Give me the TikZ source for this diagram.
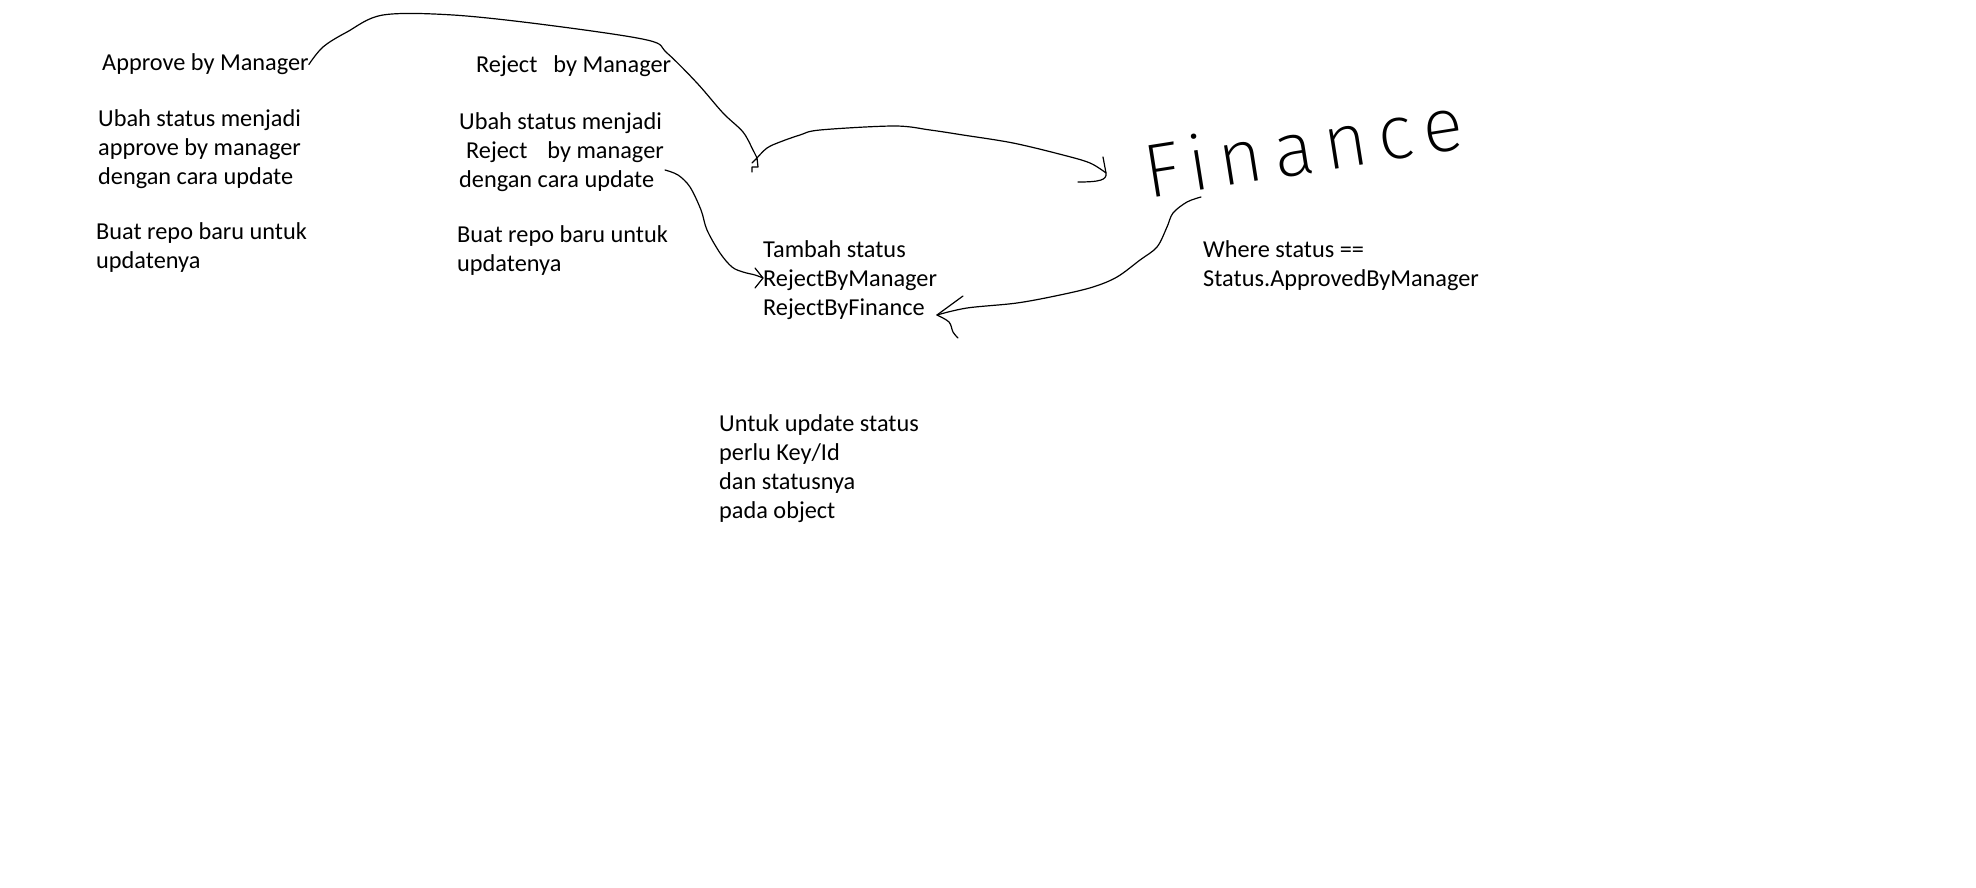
\documentclass[tikz,border=0pt]{standalone}
\usepackage{fontspec}
\setmainfont{Carlito}
\IfFontExistsTF{Fira Sans ExtraLight}
  {\newfontfamily\handfont{Fira Sans ExtraLight}}
  {\IfFontExistsTF{Fira Sans Light}
    {\newfontfamily\handfont{Fira Sans Light}}
    {\newfontfamily\handfont{Carlito}}}
\tikzset{
  txt/.style={anchor=west, align=left, inner sep=0pt,
    font=\fontsize{24.3}{29}\selectfont},
  pen/.style={line width=1.2pt, line cap=round, line join=round},
}

\begin{document}
\begin{tikzpicture}[x=1pt, y=-1pt]
\fill[white] (0,0) rectangle (1976,888);
\useasboundingbox (0,0) rectangle (1976,888);

\node[txt] (approve) at (102,64.5) {Approve by Manager};
\node[txt] (ubahA) at (98,149.5) {Ubah status menjadi\\approve by manager\\dengan cara update};
\node[txt] (buatA) at (96,247.5) {Buat repo baru untuk\\updatenya};
\node[txt] (reject) at (476,66.5) {Reject\hspace{16pt}by Manager};
\node[txt] (ubahB) at (459,152.5) {Ubah status menjadi\\\hspace{7pt}Reject\hspace{20pt}by manager\\dengan cara update};
\node[txt] (buatB) at (457,250.5) {Buat repo baru untuk\\updatenya};
\node[txt] (tambah) at (763,280.5) {Tambah status\\RejectByManager\\RejectByFinance};
\node[txt] (untuk) at (719,468.5) {Untuk update status\\perlu Key/Id\\dan statusnya\\pada object};
\node[txt] (where) at (1203,265.5) {Where status ==\\Status.ApprovedByManager};
\node[rotate=9, inner sep=0pt, font=\handfont\fontsize{76}{76}\selectfont\addfontfeature{LetterSpace=14}]
  (finance) at (1303,146) {Finance};

\coordinate (hook) at (757,158);
\coordinate (fin) at (1106,173);
\coordinate (c0) at (665,170);
\coordinate (rbm) at (763,278);
\coordinate (d0) at (1201,197);
\coordinate (rbf) at (937,315);

\draw[pen] plot[smooth, tension=0.55] coordinates {(approve.east) (323,47) (347,32) (383,15) (453,15) (547,25) (647,40) (667,53) (697,83) (723,113) (743,132) (753,150) (hook)};
\draw[pen] (752,163) -- (hook) -- (758,167) -- (752,167) -- (752,172);
\draw[pen] plot[smooth, tension=0.55] coordinates {(hook) (767,148) (780,142) (800,135) (820,130) (894,126) (930,130) (963,135) (1013,143) (1063,155) (1090,163) (fin)};
\draw[pen] (1103,157) -- (fin) .. controls (1107,180) and (1100,182) .. (1078,182);

\draw[pen] plot[smooth, tension=0.55] coordinates {(c0) (678,175) (690,187) (701,210) (707,230) (720,253) (732,267) (743,272) (755,275) (rbm)};
\draw[pen] (755,268) -- (rbm) -- (755,288);

\draw[pen] plot[smooth, tension=0.55] coordinates {(d0) (1187,202) (1173,213) (1167,227) (1157,247) (1140,260) (1117,277) (1093,287) (1060,295) (1017,303) (967,308) (rbf)};
\draw[pen] (963,296) -- (rbf);
\draw[pen] plot[smooth, tension=0.55] coordinates {(rbf) (949,322) (953,332) (958,338)};
\end{tikzpicture}
\end{document}
